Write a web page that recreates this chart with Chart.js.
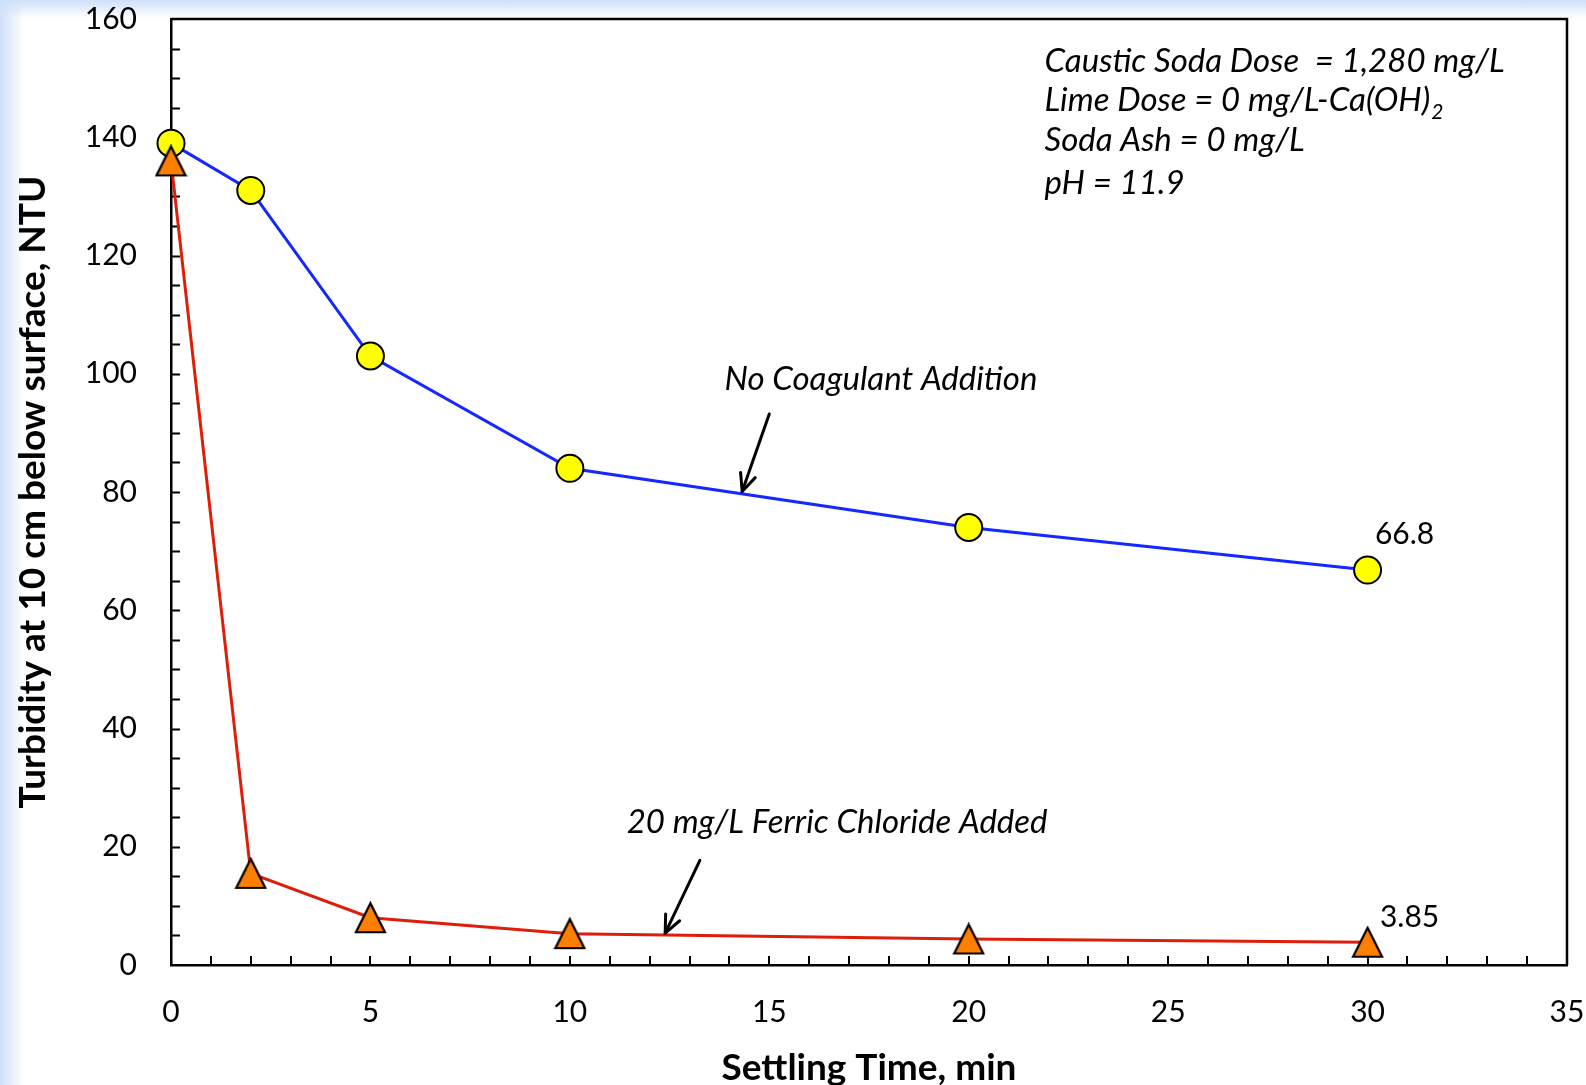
<!DOCTYPE html>
<html><head><meta charset="utf-8">
<script src="https://cdn.jsdelivr.net/npm/chart.js@4/dist/chart.umd.min.js"></script>
<style>
html,body{margin:0;padding:0;}
body{width:1586px;height:1085px;overflow:hidden;background:
 linear-gradient(to bottom, rgba(206,224,250,1) 0px, rgba(255,255,255,0) 18px),
 linear-gradient(to right, rgba(206,224,250,1) 0px, rgba(255,255,255,0) 24px), #ffffff;}
#wrap{position:absolute;left:0;top:0;width:1586px;height:1085px;}
</style></head>
<body><div id="wrap"><canvas id="c" width="1586" height="1085"></canvas></div>
<script>
// ---- data ----
const settlingTime = [0, 2, 5, 10, 20, 30];
const noCoagulant = [139, 131, 103, 84, 74, 66.8];
const ferricChloride = [136, 15.5, 8, 5.3, 4.4, 3.85];
const seriesNames = ['No Coagulant Addition', '20 mg/L Ferric Chloride Added'];
const xTitle = 'Settling Time, min';
const yTitle = 'Turbidity at 10 cm below surface, NTU';
const conditionLines = ['Caustic Soda Dose  = 1,280 mg/L', 'Lime Dose = 0 mg/L-Ca(OH)', 'Soda Ash = 0 mg/L', 'pH = 11.9'];
const endLabels = ['66.8', '3.85'];

const FONT = 'Lato';

// triangle marker centred in its box
function makeTriangle(size, fill) {
  const c = document.createElement('canvas');
  c.width = size; c.height = size;
  const g = c.getContext('2d');
  g.beginPath();
  g.moveTo(size / 2, 2);
  g.lineTo(size - 2, size - 2);
  g.lineTo(2, size - 2);
  g.closePath();
  g.fillStyle = fill; g.fill();
  g.lineWidth = 2.2; g.strokeStyle = '#000'; g.lineJoin = 'miter'; g.stroke();
  return c;
}
const triangle = makeTriangle(33, '#ff7f00');

const toXY = (xs, ys) => xs.map((x, i) => ({x: x, y: ys[i]}));

function arrow(ctx, x1, y1, x2, y2) {
  ctx.save();
  ctx.strokeStyle = '#000'; ctx.lineWidth = 3; ctx.lineCap = 'round'; ctx.lineJoin = 'round';
  ctx.beginPath(); ctx.moveTo(x1, y1); ctx.lineTo(x2, y2); ctx.stroke();
  const a = Math.atan2(y2 - y1, x2 - x1), L = 19, s = 0.42;
  ctx.beginPath();
  ctx.moveTo(x2 - L * Math.cos(a - s), y2 - L * Math.sin(a - s));
  ctx.lineTo(x2, y2);
  ctx.lineTo(x2 - L * Math.cos(a + s), y2 - L * Math.sin(a + s));
  ctx.stroke();
  ctx.restore();
}

const framePlugin = {
  id: 'frame',
  beforeDatasetsDraw(chart) {
    const {ctx, chartArea: ca, scales: {x, y}} = chart;
    ctx.save();
    ctx.strokeStyle = '#000'; ctx.lineWidth = 2;
    // inner tick marks
    ctx.beginPath();
    for (let v = 5; v <= 155; v += 5) {
      const py = Math.round(y.getPixelForValue(v)) + 0.5;
      ctx.moveTo(ca.left, py); ctx.lineTo(ca.left + 9, py);
    }
    for (let v = 1; v <= 34; v += 1) {
      const px = Math.round(x.getPixelForValue(v));
      ctx.moveTo(px, ca.bottom); ctx.lineTo(px, ca.bottom - 9);
    }
    ctx.stroke();
    // top & right frame
    ctx.lineWidth = 2.5;
    ctx.beginPath();
    ctx.moveTo(ca.left, ca.top); ctx.lineTo(ca.right, ca.top); ctx.lineTo(ca.right, ca.bottom);
    ctx.stroke();
    ctx.restore();
  },
  afterDatasetsDraw(chart) {
    const {ctx, scales: {x, y}} = chart;
    const X = v => x.getPixelForValue(v), Y = v => y.getPixelForValue(v);
    ctx.save();
    ctx.fillStyle = '#000';
    // series annotations
    ctx.font = 'italic 33px ' + FONT;
    ctx.textAlign = 'center'; ctx.textBaseline = 'middle';
    ctx.fillText(seriesNames[0], X(17.8), Y(99));
    ctx.fillText(seriesNames[1], X(16.7), Y(24.1));
    arrow(ctx, X(15.0), Y(93.2), X(14.32), Y(80.1));
    arrow(ctx, X(13.26), Y(17.7), X(12.39), Y(5.4));
    // end value labels
    ctx.font = '30px ' + FONT;
    const lx = settlingTime[settlingTime.length - 1];
    ctx.fillText(endLabels[0], X(lx) + 37, Y(noCoagulant[noCoagulant.length - 1]) - 36);
    ctx.fillText(endLabels[1], X(lx) + 42, Y(ferricChloride[ferricChloride.length - 1]) - 25);
    // conditions text box
    ctx.font = 'italic 33px ' + FONT;
    ctx.textAlign = 'left'; ctx.textBaseline = 'alphabetic';
    const tx = X(21.9);
    const base = [151, 144.4, 137.7, 130.4];
    conditionLines.forEach((t, i) => {
      ctx.fillText(t, tx, Y(base[i]));
      if (i === 1) {
        const w = ctx.measureText(t).width;
        ctx.font = 'italic 21px ' + FONT;
        ctx.fillText('2', tx + w + 1, Y(base[i]) + 8);
        ctx.font = 'italic 33px ' + FONT;
      }
    });
    ctx.restore();
  }
};

new Chart(document.getElementById('c'), {
  type: 'line',
  data: {
    datasets: [
      {
        label: seriesNames[0],
        data: toXY(settlingTime, noCoagulant),
        borderColor: '#1428ff', borderWidth: 3,
        pointStyle: 'circle', pointRadius: 13.5, pointHoverRadius: 13.5,
        pointBackgroundColor: '#ffff00', pointBorderColor: '#000', pointBorderWidth: 2,
        tension: 0, clip: false, order: 1
      },
      {
        label: seriesNames[1],
        data: toXY(settlingTime, ferricChloride),
        borderColor: '#dc1e0a', borderWidth: 3,
        pointStyle: triangle, pointRadius: 16, pointHoverRadius: 16,
        tension: 0, clip: false, order: 0
      }
    ]
  },
  options: {
    responsive: false,
    animation: false,
    events: [],
    layout: {padding: {top: 16, right: 19, left: 0, bottom: 0}},
    plugins: {legend: {display: false}, tooltip: {enabled: false}},
    scales: {
      x: {
        type: 'linear', min: 0, max: 35,
        grid: {display: true, drawOnChartArea: false, drawTicks: true, tickLength: 32, tickColor: 'rgba(0,0,0,0)'},
        border: {display: true, color: '#000', width: 2.5},
        ticks: {stepSize: 5, color: '#000', font: {family: FONT, size: 30, lineHeight: 1.0}, padding: 0, maxRotation: 0},
        title: {display: true, text: xTitle, color: '#000', font: {family: FONT, size: 37, weight: 'bold', lineHeight: 1.2}, padding: {top: 0, bottom: -5}},
        afterFit(s) { s.height = 120; }
      },
      y: {
        type: 'linear', min: 0, max: 160,
        grid: {display: true, drawOnChartArea: false, drawTicks: true, tickLength: 34, tickColor: 'rgba(0,0,0,0)'},
        border: {display: true, color: '#000', width: 2.5},
        ticks: {stepSize: 20, color: '#000', font: {family: FONT, size: 30, lineHeight: 1.0}, padding: 0},
        title: {display: true, text: yTitle, color: '#000', font: {family: FONT, size: 37, weight: 'bold', lineHeight: 1.2}, padding: {top: 11, bottom: 0}},
        afterFit(s) { s.width = 171; }
      }
    }
  },
  plugins: [framePlugin]
});
</script>
</body></html>
